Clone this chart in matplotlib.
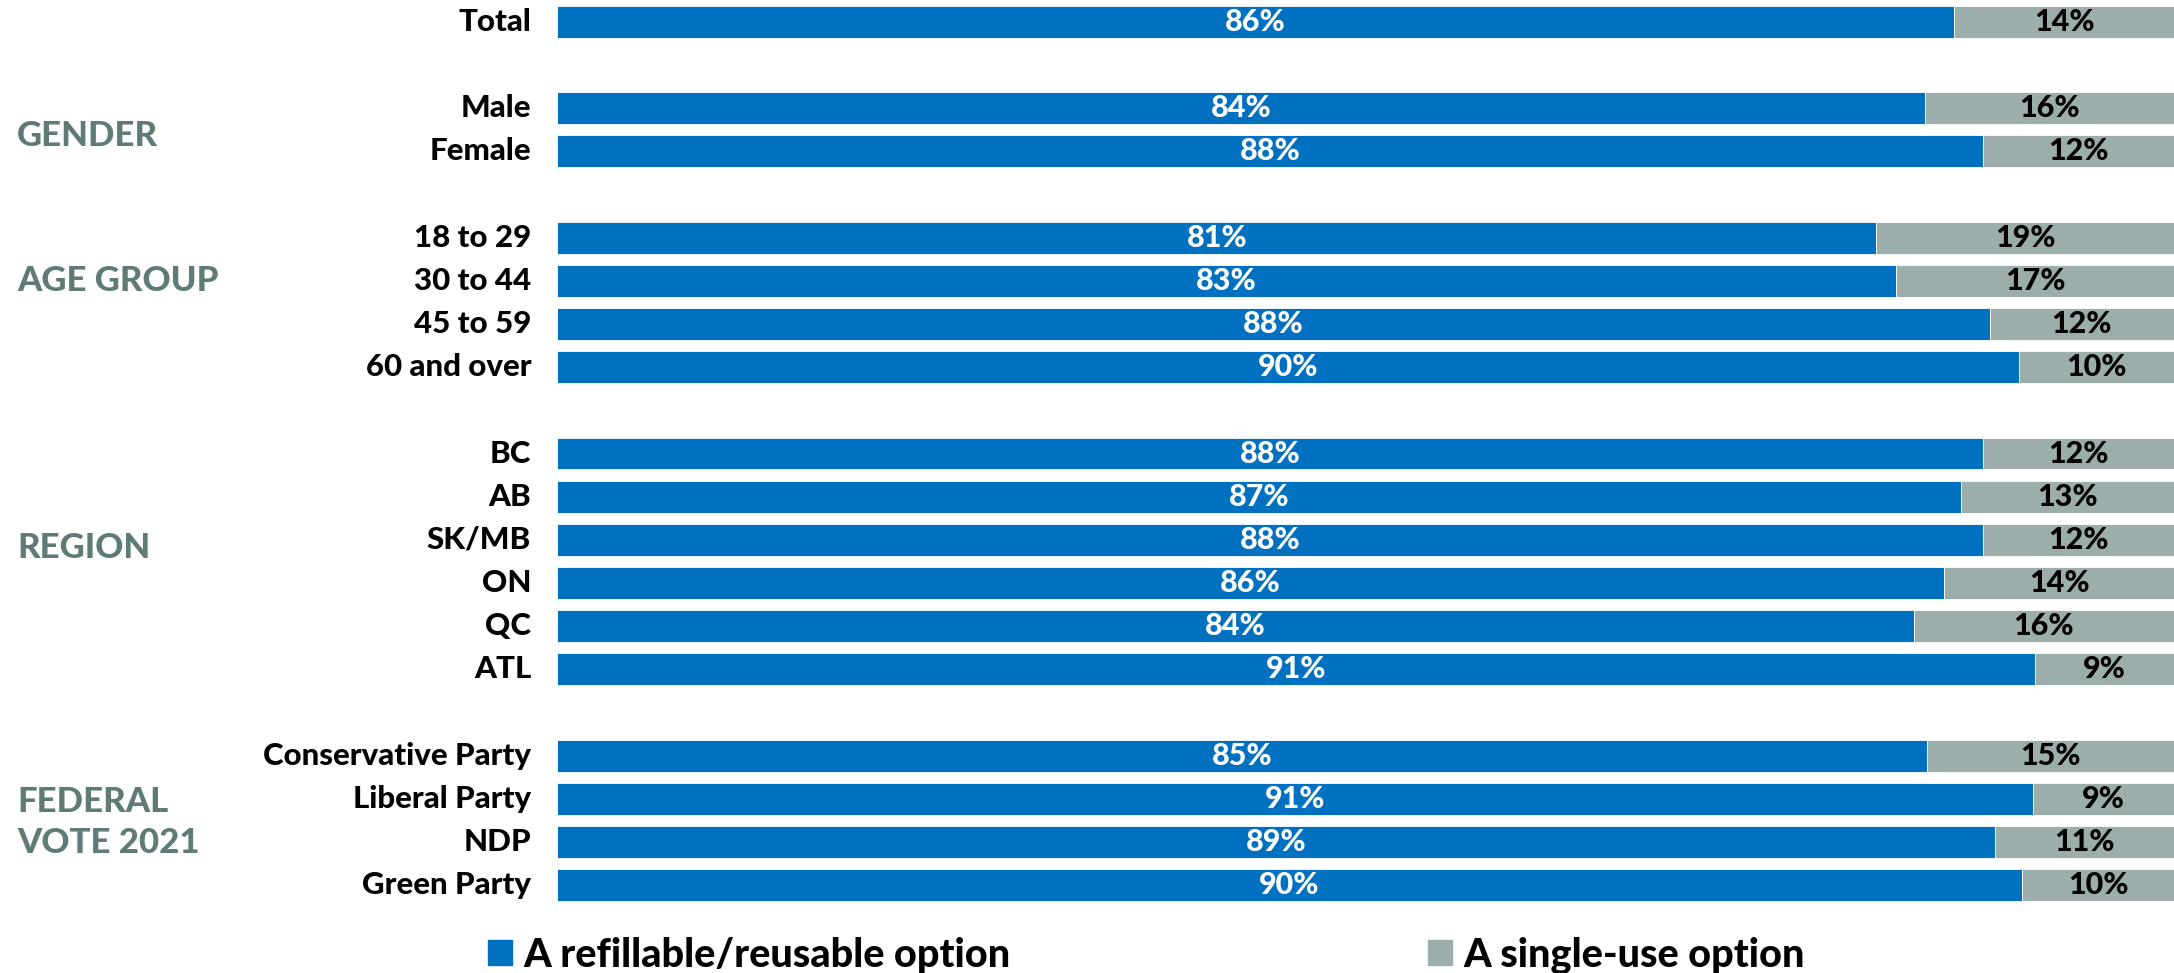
import matplotlib.pyplot as plt
from matplotlib.patches import Patch

plt.rcParams['font.family'] = ['Lato', 'DejaVu Sans']

categories = ["Total", "", "Male", "Female", "",
              "18 to 29", "30 to 44", "45 to 59", "60 and over", "",
              "BC", "AB", "SK/MB", "ON", "QC", "ATL", "",
              "Conservative Party", "Liberal Party", "NDP", "Green Party"]
refillable = [86.4, None, 84.6, 88.2, None,
              81.6, 82.8, 88.6, 90.4, None,
              88.2, 86.8, 88.2, 85.8, 83.9, 91.4, None,
              84.7, 91.3, 88.9, 90.6]
refillable_labels = ["86%", "", "84%", "88%", "",
                     "81%", "83%", "88%", "90%", "",
                     "88%", "87%", "88%", "86%", "84%", "91%", "",
                     "85%", "91%", "89%", "90%"]
single_labels = ["14%", "", "16%", "12%", "",
                 "19%", "17%", "12%", "10%", "",
                 "12%", "13%", "12%", "14%", "16%", "9%", "",
                 "15%", "9%", "11%", "10%"]
groups = ["GENDER", "AGE GROUP", "REGION", "FEDERAL\nVOTE 2021"]
group_rows = [2.64, 6.0, 12.2, 18.55]
series = ["A refillable/reusable option", "A single-use option"]

blue = "#0070C0"
grey = "#9BAEAC"
group_color = "#5f7b77"

fig = plt.figure(figsize=(21.74, 9.73), dpi=100)
ax = fig.add_axes([557/2174, 0.0682, 1 - 557/2174, 0.9314])

for i, v in enumerate(refillable):
    if v is None:
        continue
    ax.barh(i, v, height=0.74, color=blue, edgecolor="white", linewidth=0.6)
    ax.barh(i, 100 - v, left=v, height=0.74, color=grey,
            edgecolor="white", linewidth=0.6)
    ax.text(v / 2, i, refillable_labels[i], ha="center", va="center",
            color="white", fontsize=22, fontweight="black")
    ax.text(v + (100 - v) / 2, i, single_labels[i], ha="center", va="center",
            color="black", fontsize=22, fontweight="black")
    ax.text(-1.6, i, categories[i], ha="right", va="center",
            color="black", fontsize=22.5, fontweight="black")

for g, r in zip(groups, group_rows):
    ax.annotate(g, xy=(17/2174, r), xycoords=("figure fraction", "data"),
                ha="left", va="center", color=group_color, fontsize=25,
                fontweight="black", linespacing=1.35)

ax.set_xlim(0, 100)
ax.set_ylim(20.5, -0.5)
ax.axis("off")

handles = [Patch(color=blue), Patch(color=grey)]
anchors = [488/2174, 1428/2174]
for h, s, x in zip(handles, series, anchors):
    fig.legend([h], [s], loc="center left", bbox_to_anchor=(x, 1 - 955/973),
               frameon=False, handlelength=0.6, handleheight=0.6,
               handletextpad=0.3, borderpad=0, borderaxespad=0,
               prop={"size": 28.5, "weight": "black"})

plt.savefig("out.png", dpi=100)
